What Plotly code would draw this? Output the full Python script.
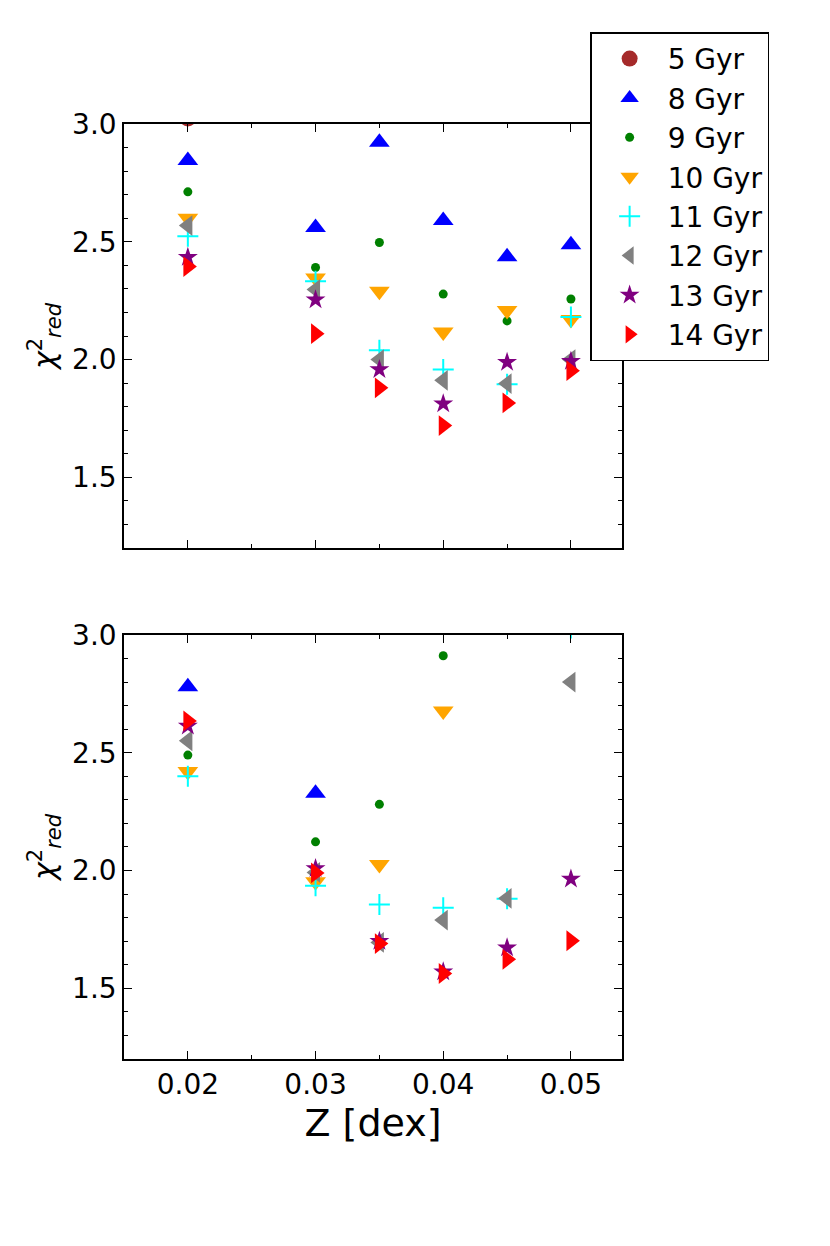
import plotly.graph_objects as go
from plotly.subplots import make_subplots

Z = [0.02, 0.03, 0.035, 0.04, 0.045, 0.05]

ages = ["5 Gyr", "8 Gyr", "9 Gyr", "10 Gyr", "11 Gyr", "12 Gyr", "13 Gyr", "14 Gyr"]

# top panel chi2_red values (None = outside the visible range)
top_5 = [3.025, None, None, None, None, None]
top_8 = [2.845, 2.561, 2.922, 2.590, 2.436, 2.487]
top_9 = [2.712, 2.391, 2.497, 2.278, 2.164, 2.257]
top_10 = [2.600, 2.346, 2.290, 2.117, 2.208, 2.170]
top_11 = [2.523, 2.332, 2.040, 1.958, 1.895, 2.181]
top_12 = [2.569, 2.297, 2.000, 1.912, 1.898, 2.000]
top_13 = [2.434, 2.254, 1.958, 1.812, 1.989, 1.993]
top_14 = [2.395, 2.110, 1.880, 1.720, 1.816, 1.953]

# bottom panel
bot_5 = [None, None, None, None, None, None]
bot_8 = [2.780, 2.328, None, None, None, None]
bot_9 = [2.490, 2.122, 2.281, 2.912, None, None]
bot_10 = [2.420, 1.952, 2.026, 2.677, None, None]
bot_11 = [2.400, 1.935, 1.856, 1.842, 1.880, 3.030]
bot_12 = [2.551, 1.992, 1.695, 1.790, 1.882, 2.800]
bot_13 = [2.614, 2.009, 1.700, 1.570, 1.672, 1.964]
bot_14 = [2.635, 1.990, 1.690, 1.563, 1.623, 1.702]

top_vals = [top_5, top_8, top_9, top_10, top_11, top_12, top_13, top_14]
bot_vals = [bot_5, bot_8, bot_9, bot_10, bot_11, bot_12, bot_13, bot_14]

colors = ["#a52a2a", "#0000ff", "#008000", "#ffa500", "#00ffff", "#808080", "#800080", "#ff0000"]
symbols = ["circle", "triangle-up", "circle", "triangle-down", "cross-thin",
           "triangle-left", "star", "triangle-right"]
sizes = [17, 18, 9, 18, 15, 18, 15, 18]

x_ticks = [0.02, 0.03, 0.04, 0.05]
y_ticks = [1.5, 2.0, 2.5, 3.0]

FONT = "DejaVu Sans"

fig = make_subplots(rows=2, cols=1, shared_xaxes=True, vertical_spacing=0.093)

for i, age in enumerate(ages):
    for row, vals in ((1, top_vals[i]), (2, bot_vals[i])):
        marker = dict(color=colors[i], symbol=symbols[i], size=sizes[i])
        if symbols[i] == "cross-thin":
            marker["line"] = dict(color=colors[i], width=2)
        else:
            marker["line"] = dict(width=0)
        fig.add_trace(go.Scatter(
            x=Z, y=vals, mode="markers", name=age, marker=marker,
            showlegend=(row == 1), cliponaxis=True,
        ), row=row, col=1)

axis_common = dict(
    showline=True, linecolor="black", linewidth=1.5, mirror="ticks",
    ticks="inside", ticklen=8, tickwidth=1, tickcolor="black",
    showgrid=False, zeroline=False,
    tickfont=dict(family=FONT, size=28, color="black"),
)

for r in (1, 2):
    fig.update_xaxes(range=[0.015, 0.054], tickvals=x_ticks,
                     ticktext=[f"{v:.2f}" for v in x_ticks],
                     minor=dict(dtick=0.005, tick0=0.015, ticks="inside", ticklen=4,
                                tickcolor="black", showgrid=False),
                     row=r, col=1, **axis_common)
    fig.update_yaxes(range=[1.2, 3.0], tickvals=y_ticks,
                     ticktext=[f"{v:.1f}" for v in y_ticks],
                     minor=dict(dtick=0.1, tick0=1.2, ticks="inside", ticklen=4,
                                tickcolor="black", showgrid=False),
                     title=dict(text="<i>χ</i><sup>2</sup><sub><i>red</i></sub>",
                                font=dict(family=FONT, size=30, color="black"),
                                standoff=8),
                     row=r, col=1, **axis_common)

fig.update_xaxes(title=dict(text="Z [dex]", font=dict(family=FONT, size=38, color="black"),
                            standoff=3), row=2, col=1)

fig.update_layout(
    width=830, height=1246,
    margin=dict(l=116, r=216, t=116, b=195),
    paper_bgcolor="white", plot_bgcolor="white",
    font=dict(family=FONT, color="black"),
    legend=dict(
        x=0.936, y=1.098, xanchor="left", yanchor="top",
        bgcolor="white", bordercolor="black", borderwidth=1.5,
        font=dict(family=FONT, size=28, color="black"),
        itemsizing="trace", itemwidth=66, tracegroupgap=0,
    ),
)

fig.write_html("out.html")
